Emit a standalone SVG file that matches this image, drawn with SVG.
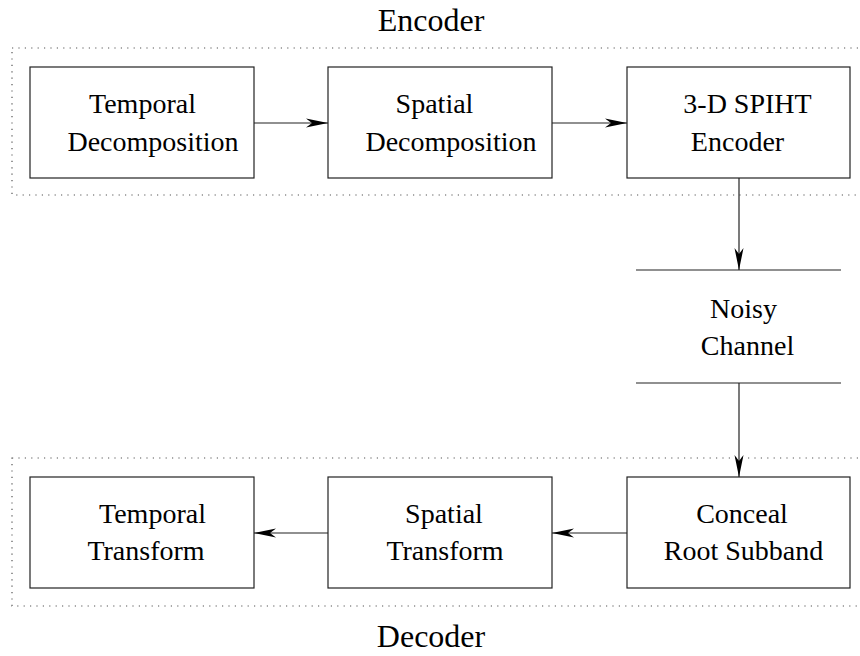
<svg xmlns="http://www.w3.org/2000/svg" width="860" height="656" viewBox="0 0 860 656">
<style>
text{font-family:"Liberation Serif","Times New Roman",serif;font-size:28px;fill:#000;text-anchor:middle}
.title{font-size:32px}
.box{fill:none;stroke:#222;stroke-width:1.2}
.grp{fill:none;stroke:#555;stroke-width:1.2;stroke-dasharray:1.2 5.2}
.ln{fill:none;stroke:#222;stroke-width:1.2}
.ar{fill:none;stroke:#222;stroke-width:1.2;marker-end:url(#ah)}
</style>
<defs>
<marker id="ah" viewBox="0 0 22 10" refX="22" refY="5" markerWidth="22" markerHeight="10" markerUnits="userSpaceOnUse" orient="auto">
<path d="M0,0.5 L22,5 L0,9.5 L6,5 Z" fill="#000"/>
</marker>
</defs>
<g id="encoder-group">
<rect class="grp" x="12" y="48" width="870" height="147"/>
<text class="title" x="431" y="31">Encoder</text>
</g>
<g id="decoder-group">
<rect class="grp" x="12" y="458" width="870" height="148"/>
<text class="title" x="431" y="647">Decoder</text>
</g>
<g id="temporal-decomposition">
<rect class="box" x="30" y="67" width="224" height="111"/>
<text x="142.5" y="113">Temporal</text>
<text x="153" y="151">Decomposition</text>
</g>
<g id="spatial-decomposition">
<rect class="box" x="328" y="67" width="224" height="111"/>
<text x="434.5" y="113">Spatial</text>
<text x="451" y="151">Decomposition</text>
</g>
<g id="spiht-encoder">
<rect class="box" x="627" y="67" width="223" height="111"/>
<text x="747.5" y="113">3-D SPIHT</text>
<text x="737.5" y="151">Encoder</text>
</g>
<g id="noisy-channel">
<line class="ln" x1="636" y1="270" x2="841" y2="270"/>
<line class="ln" x1="636" y1="383" x2="841" y2="383"/>
<text x="743.5" y="318">Noisy</text>
<text x="747.5" y="355">Channel</text>
</g>
<g id="temporal-transform">
<rect class="box" x="30" y="477" width="224" height="111"/>
<text x="152.5" y="523">Temporal</text>
<text x="146" y="560">Transform</text>
</g>
<g id="spatial-transform">
<rect class="box" x="328" y="477" width="224" height="111"/>
<text x="444" y="523">Spatial</text>
<text x="445" y="560">Transform</text>
</g>
<g id="conceal-root-subband">
<rect class="box" x="627" y="477" width="223" height="111"/>
<text x="742" y="523">Conceal</text>
<text x="743.5" y="560">Root Subband</text>
</g>
<g id="connectors">
<line class="ar" x1="254" y1="123" x2="328" y2="123"/>
<line class="ar" x1="552" y1="123" x2="627" y2="123"/>
<line class="ar" x1="739" y1="178" x2="739" y2="270"/>
<line class="ar" x1="739" y1="383" x2="739" y2="477"/>
<line class="ar" x1="627" y1="533" x2="552" y2="533"/>
<line class="ar" x1="328" y1="533" x2="254" y2="533"/>
</g>
</svg>
